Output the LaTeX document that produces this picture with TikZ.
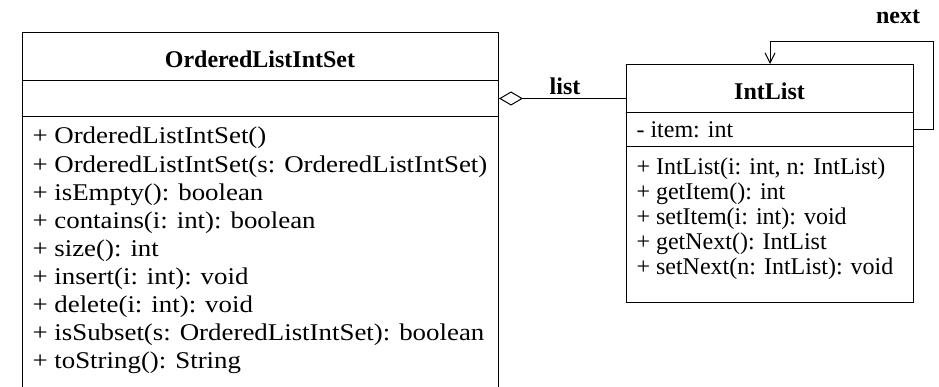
\documentclass[tikz,border=0pt]{standalone}
\usepackage{fontspec}
\setmainfont{Liberation Serif}
\newfontfamily\palfont[FakeStretch=1.12]{Liberation Serif}
\usetikzlibrary{arrows.meta}
\tikzset{
  part/.style={draw, rectangle, inner sep=0pt, anchor=north west},
  heading/.style={font={\fontsize{24}{24}\selectfont\bfseries}, anchor=base, inner sep=0pt},
  member/.style={font={\fontsize{24}{24}\selectfont}, anchor=base west, inner sep=0pt},
  setmember/.style={member, font={\fontsize{24}{24}\selectfont\palfont}},
}
\begin{document}
\begin{tikzpicture}[x=1pt,y=-1pt,line width=1pt]
  \useasboundingbox (0,0) rectangle (939,387);
  \clip (0,0) rectangle (939,387);
  % OrderedListIntSet
  \node[part, minimum width=476pt, minimum height=48pt] (setTitle) at (22,32) {};
  \node[part, minimum width=476pt, minimum height=36pt] (setAttr) at (22,80) {};
  \node[part, minimum width=476pt, minimum height=300pt] (setOps) at (22,116) {};
  \node[heading] (setName) at (260,68) {OrderedListIntSet};
  \path
    (32,144.0) node[setmember] (setop1) {+ OrderedListIntSet()}
    (32,172.1) node[setmember] (setop2) {+ OrderedListIntSet(s: OrderedListIntSet)}
    (32,200.2) node[setmember] (setop3) {+ isEmpty(): boolean}
    (32,228.3) node[setmember] (setop4) {+ contains(i: int): boolean}
    (32,256.4) node[setmember] (setop5) {+ size(): int}
    (32,284.5) node[setmember] (setop6) {+ insert(i: int): void}
    (32,312.6) node[setmember] (setop7) {+ delete(i: int): void}
    (32,340.7) node[setmember] (setop8) {+ isSubset(s: OrderedListIntSet): boolean}
    (32,368.8) node[setmember] (setop9) {+ toString(): String};
  % IntList
  \node[part, minimum width=287pt, minimum height=48pt] (listTitle) at (626,64) {};
  \node[part, minimum width=287pt, minimum height=34pt] (listAttr) at (626,112) {};
  \node[part, minimum width=287pt, minimum height=156pt] (listOps) at (626,146) {};
  \node[heading] (listName) at (769.5,100) {IntList};
  \node[member] (item) at (636,138) {- item: int};
  \path
    (636,175) node[member] (listop1) {+ IntList(i: int, n: IntList)}
    (636,200) node[member] (listop2) {+ getItem(): int}
    (636,225) node[member] (listop3) {+ setItem(i: int): void}
    (636,250) node[member] (listop4) {+ getNext(): IntList}
    (636,275) node[member] (listop5) {+ setNext(n: IntList): void};
  % associations
  \draw[{Diamond[open,length=24pt,width=14pt]}-] (setAttr.east) -- (setAttr.east -| listTitle.west);
  \node[heading] (listLabel) at (565,95) {list};
  \coordinate (loopCorner) at (933,42);
  \draw[-{Straight Barb[length=10pt,width=10pt]}] (listAttr.east) -| (loopCorner) -| (listTitle.north);
  \node[heading] (nextLabel) at (898,24) {next};
\end{tikzpicture}
\end{document}
